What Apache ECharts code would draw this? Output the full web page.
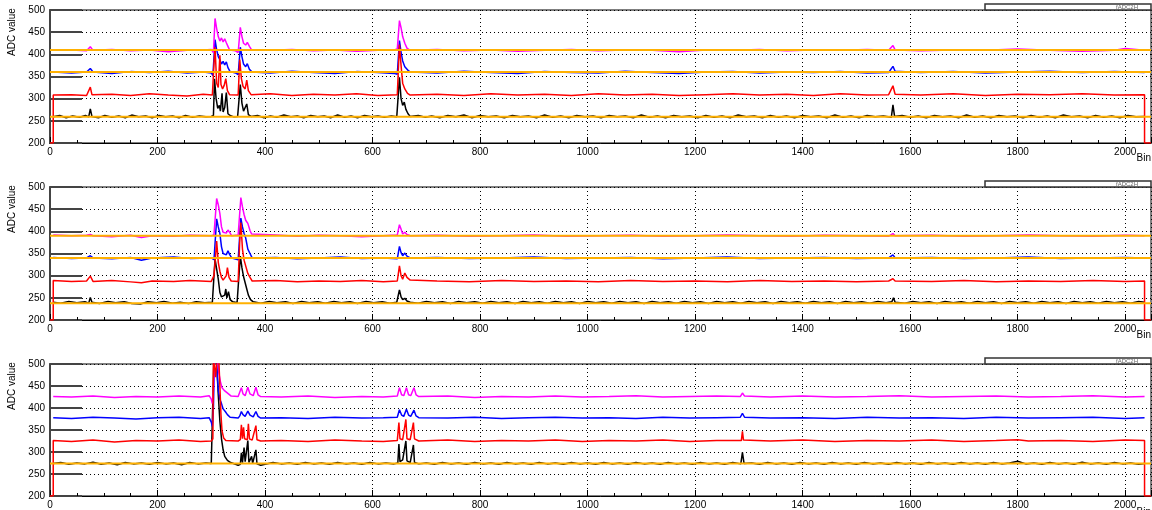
<!DOCTYPE html>
<html>
<head>
<meta charset="utf-8">
<script src="https://cdn.jsdelivr.net/npm/echarts@6/dist/echarts.min.js"></script>
<style>
html, body { margin: 0; padding: 0; background: #fff; }
#chart { width: 1152px; height: 510px; }
</style>
</head>
<body>
<div id="chart"></div>
<script>
// bin axis and ADC axis ticks
var binTicks = [0, 200, 400, 600, 800, 1000, 1200, 1400, 1600, 1800, 2000];
var adcTicks = [200, 250, 300, 350, 400, 450, 500];

// panel 1 (top)
var p1Black = [[6,259],[18,262],[30,257],[42,261],[55,258],[66,262],[72,259],[75,277],[78,260],[90,257],[102,262],[115,258],[128,261],[140,257],[152,263],[165,259],[178,261],[190,257],[203,262],[215,259],[228,261],[240,257],[252,262],[265,258],[278,261],[290,259],[300,260],[304,262],[306,345],[309,300],[312,278],[315,285],[317,272],[320,312],[322,270],[325,280],[328,314],[331,266],[335,262],[342,259],[349,260],[352,262],[354,332],[357,290],[360,272],[363,268],[366,288],[369,264],[374,260],[386,262],[398,257],[410,261],[422,258],[435,263],[448,259],[460,261],[472,257],[485,262],[498,259],[510,261],[522,257],[535,263],[548,258],[560,261],[572,257],[585,262],[598,259],[610,261],[622,258],[635,261],[645,259],[648,262],[650,348],[653,300],[656,285],[659,292],[662,276],[666,266],[670,260],[685,262],[698,258],[710,261],[725,257],[740,262],[755,259],[770,263],[785,257],[800,262],[815,259],[830,261],[845,257],[860,262],[875,259],[890,261],[905,257],[920,263],[935,258],[950,261],[965,257],[980,262],[995,259],[1010,261],[1025,257],[1040,262],[1055,259],[1070,261],[1085,257],[1100,263],[1115,258],[1130,261],[1145,257],[1160,262],[1175,259],[1190,261],[1205,257],[1220,262],[1235,258],[1250,261],[1265,257],[1280,263],[1295,259],[1310,261],[1325,257],[1340,262],[1355,258],[1370,261],[1385,257],[1400,262],[1415,259],[1430,261],[1445,257],[1460,263],[1475,258],[1490,261],[1505,257],[1520,262],[1535,259],[1550,261],[1565,258],[1568,286],[1571,260],[1585,262],[1600,258],[1615,261],[1630,257],[1645,262],[1660,259],[1675,261],[1690,257],[1705,263],[1720,258],[1735,261],[1750,257],[1765,262],[1780,259],[1795,261],[1810,257],[1825,262],[1840,258],[1855,261],[1870,257],[1885,263],[1900,259],[1915,261],[1930,257],[1945,262],[1960,258],[1975,261],[1990,257],[2005,262],[2020,259],[2036,260]];
var p1Red = [[0,200],[6,200],[6,308],[40,309],[68,307],[75,326],[78,309],[115,310],[150,307],[185,311],[220,308],[255,306],[285,310],[302,308],[305,378],[307,416],[310,335],[313,325],[316,398],[318,332],[321,322],[324,330],[327,345],[330,318],[334,309],[350,308],[353,388],[356,345],[359,328],[363,322],[366,342],[369,318],[374,309],[410,311],[450,307],[490,310],[530,308],[570,311],[610,307],[646,309],[650,422],[653,375],[656,335],[660,322],[665,312],[670,308],[720,310],[770,307],[820,311],[870,308],[920,310],[970,307],[1020,311],[1070,308],[1120,310],[1170,307],[1220,309],[1270,311],[1320,308],[1370,310],[1420,307],[1470,311],[1520,308],[1560,309],[1568,329],[1572,310],[1620,308],[1680,311],[1740,307],[1800,310],[1860,309],[1920,311],[1980,308],[2036,309],[2036,200],[2048,200]];
var p1Blue = [[6,360],[40,358],[68,360],[75,368],[80,360],[115,357],[150,361],[185,359],[220,362],[255,358],[285,360],[300,358],[303,352],[307,433],[310,410],[313,395],[316,388],[319,378],[322,384],[325,376],[328,383],[331,370],[335,361],[345,358],[350,354],[354,416],[357,395],[360,378],[364,372],[367,379],[371,366],[376,360],[410,358],[450,362],[490,359],[530,357],[570,361],[610,359],[640,357],[646,355],[650,431],[653,405],[656,385],[660,372],[665,365],[670,360],[720,358],[770,362],[820,359],[870,357],[920,361],[970,359],[1020,358],[1070,362],[1120,359],[1170,357],[1220,360],[1270,361],[1320,358],[1370,360],[1420,359],[1470,361],[1520,358],[1560,359],[1568,373],[1572,362],[1620,359],[1680,361],[1740,358],[1800,360],[1860,362],[1920,359],[1980,361],[2036,359]];
var p1Magenta = [[6,409],[40,410],[68,408],[75,417],[80,409],[115,411],[150,408],[185,410],[220,406],[255,409],[285,410],[300,411],[304,404],[307,481],[310,458],[313,440],[316,430],[319,437],[322,428],[325,435],[328,426],[331,418],[334,410],[345,408],[350,404],[354,461],[357,440],[360,425],[364,421],[367,427],[371,418],[375,410],[410,409],[450,411],[490,408],[530,410],[570,407],[610,409],[640,410],[646,412],[650,476],[653,460],[656,440],[660,425],[664,414],[670,409],[720,411],[770,408],[820,410],[870,407],[920,409],[970,411],[1020,408],[1070,410],[1120,409],[1170,406],[1220,410],[1270,409],[1320,411],[1370,408],[1420,410],[1470,409],[1520,411],[1560,409],[1568,420],[1572,410],[1620,408],[1680,410],[1740,409],[1800,412],[1860,409],[1920,407],[1980,409],[2000,413],[2036,409]];
var p1Orange = [410, 360, 259];

// panel 2 (middle)
var p2Black = [[6,240],[20,238],[35,242],[50,239],[65,241],[72,238],[75,251],[78,240],[92,237],[108,242],[122,239],[138,241],[152,237],[168,236],[182,241],[198,239],[212,242],[228,238],[242,240],[258,237],[272,241],[288,239],[302,240],[305,243],[307,338],[310,315],[313,292],[316,262],[319,252],[322,248],[325,256],[327,270],[329,250],[332,264],[335,246],[340,241],[348,239],[351,242],[354,344],[357,318],[360,298],[363,284],[366,270],[369,256],[373,246],[378,241],[392,238],[408,242],[422,239],[438,241],[452,237],[468,242],[482,239],[498,241],[512,238],[528,242],[542,239],[558,241],[572,237],[588,242],[602,239],[618,241],[632,238],[645,240],[648,244],[650,268],[653,252],[656,246],[660,249],[664,243],[670,240],[685,238],[700,242],[715,239],[730,241],[745,237],[760,242],[775,239],[790,241],[805,238],[820,242],[835,239],[850,241],[865,237],[880,242],[895,239],[910,241],[925,238],[940,242],[955,239],[970,241],[985,237],[1000,242],[1015,239],[1030,241],[1045,238],[1060,242],[1075,239],[1090,241],[1105,237],[1120,242],[1135,239],[1150,241],[1165,238],[1180,242],[1195,239],[1210,241],[1225,237],[1240,242],[1255,239],[1270,241],[1285,238],[1300,242],[1315,239],[1330,241],[1345,237],[1360,242],[1375,239],[1390,241],[1405,238],[1420,242],[1435,239],[1450,241],[1465,237],[1480,242],[1495,239],[1510,241],[1525,238],[1540,242],[1555,239],[1566,241],[1569,250],[1572,240],[1590,238],[1605,242],[1620,239],[1635,241],[1650,237],[1665,242],[1680,239],[1695,241],[1710,238],[1725,242],[1740,239],[1755,241],[1770,237],[1785,242],[1800,239],[1815,241],[1830,238],[1845,242],[1860,239],[1875,241],[1890,237],[1905,242],[1920,239],[1935,241],[1950,238],[1965,242],[1980,239],[1995,241],[2010,238],[2025,242],[2036,240]];
var p2Red = [[0,200],[6,200],[6,289],[40,287],[68,288],[75,299],[80,287],[115,289],[150,286],[170,284],[190,288],[230,287],[260,289],[300,287],[305,300],[308,345],[310,378],[313,330],[316,310],[319,296],[322,290],[325,292],[328,300],[330,318],[333,296],[337,288],[350,287],[353,380],[355,420],[358,360],[361,335],[364,322],[368,305],[372,296],[376,288],[420,289],[460,286],[500,288],[540,287],[580,289],[620,286],[646,288],[650,322],[653,300],[656,292],[660,306],[664,296],[670,290],[720,288],[780,286],[840,289],[900,287],[960,288],[1020,286],[1080,289],[1140,287],[1200,288],[1260,286],[1320,289],[1380,287],[1440,288],[1500,286],[1560,288],[1568,293],[1572,288],[1640,287],[1700,289],[1760,286],[1820,288],[1880,287],[1940,289],[2000,287],[2036,288],[2036,200],[2048,200]];
var p2Blue = [[6,341],[40,339],[68,340],[75,345],[80,340],[115,338],[150,341],[170,335],[190,340],[230,342],[260,339],[300,340],[305,336],[310,428],[313,410],[316,395],[319,365],[322,350],[325,352],[328,347],[331,356],[334,348],[338,340],[350,336],[355,430],[358,410],[361,395],[364,385],[368,360],[372,350],[376,340],[420,341],[460,338],[500,340],[540,342],[580,339],[620,340],[646,338],[650,366],[653,352],[656,345],[660,351],[664,344],[670,340],[720,341],[780,339],[840,340],[900,342],[960,339],[1020,340],[1080,341],[1140,338],[1200,340],[1260,342],[1320,339],[1380,340],[1440,341],[1500,339],[1560,340],[1568,347],[1572,340],[1640,341],[1700,339],[1760,340],[1820,342],[1880,339],[1940,340],[2000,341],[2036,340]];
var p2Magenta = [[6,392],[40,390],[68,391],[75,393],[80,390],[115,388],[150,391],[170,386],[190,390],[230,389],[260,391],[300,390],[305,392],[310,474],[313,460],[316,440],[319,410],[322,398],[325,402],[328,396],[331,403],[334,398],[338,390],[350,392],[355,476],[358,455],[361,438],[364,425],[368,418],[372,402],[375,394],[378,390],[420,392],[460,389],[500,391],[540,390],[580,388],[620,390],[646,392],[650,415],[653,405],[656,394],[660,398],[664,393],[670,390],[720,391],[780,389],[840,390],[900,392],[960,389],[1020,390],[1080,391],[1140,389],[1200,390],[1260,392],[1320,390],[1380,389],[1440,391],[1500,390],[1560,389],[1568,395],[1572,390],[1640,391],[1700,389],[1760,390],[1820,392],[1880,390],[1940,389],[2000,391],[2036,390]];
var p2Orange = [390, 340, 238];

// panel 3 (bottom)
var p3Black = [[6,274],[20,276],[35,272],[50,275],[65,273],[80,277],[95,272],[110,275],[125,271],[140,276],[155,273],[170,275],[185,272],[200,276],[215,273],[230,275],[245,271],[260,276],[275,273],[290,275],[300,274],[303,277],[305,520],[310,500],[313,430],[316,370],[319,330],[322,305],[325,290],[330,281],[336,276],[345,272],[350,270],[354,272],[356,298],[358,276],[361,310],[363,278],[368,326],[370,276],[375,290],[377,274],[383,305],[385,273],[392,270],[400,272],[415,276],[430,273],[445,275],[460,272],[475,276],[490,273],[505,275],[520,272],[535,276],[550,273],[565,275],[580,272],[595,276],[610,273],[625,275],[640,273],[647,275],[649,318],[651,278],[656,282],[662,325],[664,280],[670,276],[676,316],[678,276],[686,273],[700,275],[715,272],[730,276],[745,273],[760,275],[775,272],[790,276],[805,273],[820,275],[835,272],[850,276],[865,273],[880,275],[895,272],[910,276],[925,273],[940,275],[955,272],[970,276],[985,273],[1000,275],[1015,272],[1030,276],[1045,273],[1060,275],[1075,272],[1090,276],[1105,273],[1120,275],[1135,272],[1150,276],[1165,273],[1180,275],[1195,272],[1210,276],[1225,273],[1240,275],[1255,272],[1270,276],[1285,273],[1288,299],[1291,274],[1305,275],[1320,272],[1335,276],[1350,273],[1365,275],[1380,272],[1395,276],[1410,273],[1425,275],[1440,272],[1455,276],[1470,273],[1485,275],[1500,272],[1515,276],[1530,273],[1545,275],[1560,272],[1575,276],[1590,273],[1605,275],[1620,272],[1635,276],[1650,273],[1665,275],[1680,272],[1695,276],[1710,273],[1725,275],[1740,272],[1755,276],[1770,273],[1785,275],[1800,279],[1815,273],[1830,275],[1845,272],[1860,276],[1875,273],[1890,275],[1905,272],[1920,277],[1935,273],[1950,275],[1965,272],[1980,276],[1995,273],[2010,275],[2025,272],[2036,274]];
var p3Red = [[0,200],[6,200],[6,326],[40,324],[80,327],[120,323],[160,326],[200,325],[240,327],[280,324],[300,325],[303,330],[304,520],[308,470],[311,520],[314,510],[316,450],[318,385],[320,348],[323,332],[327,326],[350,325],[354,328],[356,362],[358,330],[360,356],[362,330],[367,328],[369,364],[371,330],[376,327],[383,360],[385,328],[392,325],[430,326],[480,324],[530,327],[580,325],[620,324],[646,326],[649,367],[651,330],[656,328],[662,374],[664,330],[670,328],[676,367],[678,330],[686,325],[740,327],[790,324],[840,326],[890,325],[940,327],[990,324],[1040,326],[1090,325],[1140,327],[1190,324],[1240,326],[1286,326],[1288,347],[1290,327],[1340,325],[1400,327],[1460,324],[1520,326],[1580,325],[1640,327],[1700,324],[1760,326],[1800,328],[1820,325],[1880,326],[1940,324],[2000,327],[2036,326],[2036,200],[2048,200]];
var p3Blue = [[6,378],[40,376],[80,379],[120,377],[160,375],[200,378],[240,379],[280,376],[296,378],[300,368],[302,358],[304,400],[306,520],[310,500],[313,440],[316,420],[319,410],[322,398],[326,392],[330,385],[335,379],[350,377],[353,382],[356,392],[359,385],[363,381],[368,393],[372,384],[378,380],[383,392],[387,381],[392,377],[430,378],[480,376],[530,379],[580,377],[620,378],[646,379],[650,396],[654,384],[658,381],[663,397],[667,384],[671,381],[677,395],[681,382],[686,378],[740,377],[790,379],[840,376],[890,378],[940,379],[990,377],[1040,378],[1090,376],[1140,379],[1190,377],[1240,378],[1284,379],[1288,388],[1292,379],[1340,377],[1400,378],[1460,376],[1520,379],[1580,377],[1640,378],[1700,376],[1760,379],[1820,377],[1880,378],[1940,379],[2000,376],[2036,378]];
var p3Magenta = [[6,426],[40,425],[80,427],[120,424],[160,426],[200,425],[240,427],[280,425],[296,428],[300,420],[302,410],[304,440],[306,520],[311,520],[314,480],[317,460],[320,446],[324,440],[328,436],[332,432],[337,427],[350,426],[353,430],[356,446],[359,432],[363,428],[368,447],[372,432],[378,428],[383,447],[387,430],[392,426],[430,425],[480,427],[530,424],[580,426],[620,425],[646,427],[650,446],[654,430],[658,428],[663,446],[667,430],[671,428],[677,446],[681,430],[686,426],[740,427],[790,424],[840,426],[890,425],[940,427],[990,425],[1040,426],[1090,428],[1140,425],[1190,426],[1240,427],[1284,426],[1288,434],[1292,427],[1340,425],[1400,427],[1460,425],[1520,426],[1580,428],[1640,425],[1700,426],[1760,427],[1820,425],[1880,426],[1940,428],[2000,425],[2036,426]];
var p3Orange = [274];

var binMax = 2048;
var panels = [
    { black: p1Black, red: p1Red, blue: p1Blue, magenta: p1Magenta, orange: p1Orange },
    { black: p2Black, red: p2Red, blue: p2Blue, magenta: p2Magenta, orange: p2Orange },
    { black: p3Black, red: p3Red, blue: p3Blue, magenta: p3Magenta, orange: p3Orange }
];
var panelTops = [10, 187, 364];
var font = 'Liberation Sans, Arial, sans-serif';

var myChart = echarts.init(document.getElementById('chart'));

var grids = [], xAxes = [], yAxes = [], series = [], graphics = [];

panels.forEach(function (p, i) {
    grids.push({ left: 50, top: panelTops[i], width: 1101, height: 133,
        show: true, borderColor: '#555', borderWidth: 1.5 });

    xAxes.push({
        type: 'value', gridIndex: i, min: binTicks[0], max: binMax, interval: binTicks[1] - binTicks[0],
        axisLine: { show: true, onZero: false, lineStyle: { color: '#000', width: 1 } },
        axisTick: { show: true, inside: true, length: 6, lineStyle: { color: '#000' } },
        minorTick: { show: true, splitNumber: 4, length: 3, lineStyle: { color: '#000' } },
        axisLabel: { color: '#000', fontSize: 10, fontFamily: font, margin: 4, showMaxLabel: false,
            formatter: function (v) { return String(v); } },
        splitLine: { show: true, lineStyle: { color: '#000', type: [1, 3], width: 1 } }
    });

    yAxes.push({
        type: 'value', gridIndex: i, min: adcTicks[0], max: adcTicks[adcTicks.length - 1],
        interval: adcTicks[1] - adcTicks[0],
        axisLine: { show: true, lineStyle: { color: '#444', width: 2 } },
        axisTick: { show: true, inside: true, length: 32, lineStyle: { color: '#444', width: 2 } },
        axisLabel: { color: '#000', fontSize: 10, fontFamily: font, margin: 5 },
        splitLine: { show: true, lineStyle: { color: '#000', type: [1, 3], width: 1 } }
    });

    function trace(data, color, width, z) {
        return {
            type: 'line', xAxisIndex: i, yAxisIndex: i, data: data,
            showSymbol: false, symbol: 'none', silent: true, animation: false, z: z,
            lineStyle: { color: color, width: width }, itemStyle: { color: color }
        };
    }
    series.push(trace(p.black, '#000000', 1.5, 2));
    series.push(trace(p.blue, '#0000ff', 1.5, 3));
    series.push(trace(p.magenta, '#ff00ff', 1.5, 4));
    series.push(trace(p.red, '#ff0000', 1.5, 5));
    p.orange.forEach(function (v) {
        series.push(trace([[0, v], [binMax, v]], '#ffb000', 2, 6));
    });

    var top = panelTops[i];
    graphics.push({
        type: 'text', x: 12, y: top + 22, rotation: Math.PI / 2,
        style: { text: 'ADC value', fontSize: 10, fontFamily: font, fill: '#000',
            textAlign: 'center', textVerticalAlign: 'middle' }
    });
    graphics.push({
        type: 'text', x: 1151, y: top + 148,
        style: { text: 'Bin', fontSize: 10, fontFamily: font, fill: '#000',
            textAlign: 'right', textVerticalAlign: 'middle' }
    });
    graphics.push({
        type: 'rect', shape: { x: 985, y: top - 6, width: 166, height: 6 },
        style: { fill: '#fff', stroke: '#333', lineWidth: 1.5 }, z: 10
    });
    graphics.push({
        type: 'text', x: 1138, y: top - 3, z: 11,
        style: { text: 'fADC2H', fontSize: 6, fontFamily: font, fill: '#666',
            textAlign: 'right', textVerticalAlign: 'middle' }
    });
});

var option = {
    backgroundColor: '#fff',
    animation: false,
    grid: grids,
    xAxis: xAxes,
    yAxis: yAxes,
    series: series,
    graphic: graphics
};
myChart.setOption(option);
</script>
</body>
</html>
